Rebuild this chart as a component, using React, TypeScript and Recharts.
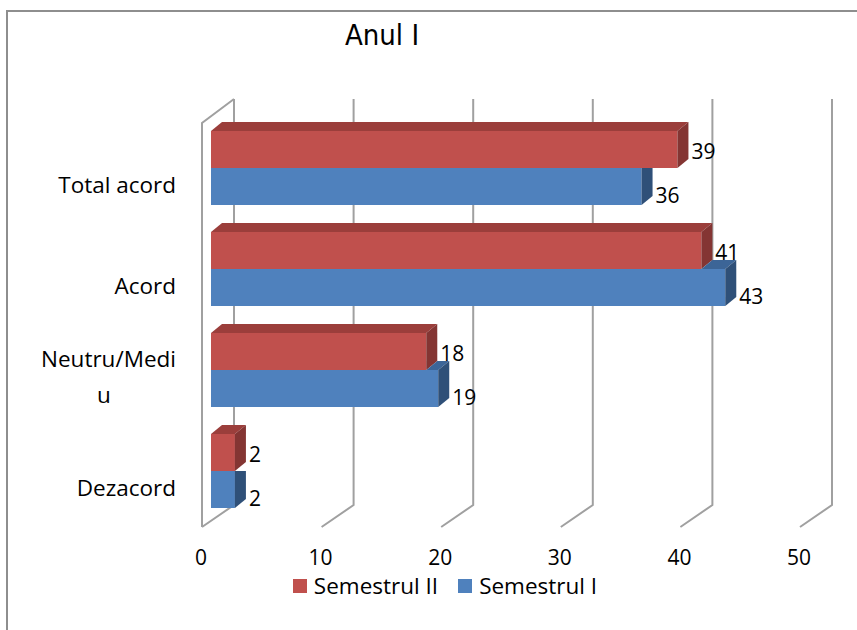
import React from 'react'
import { BarChart, Bar, XAxis, YAxis, CartesianGrid, Legend, LabelList } from 'recharts'

const categories = ['Total acord', 'Acord', 'Neutru/Mediu', 'Dezacord']
const semestrulII = [39, 41, 18, 2]
const semestrulI = [36, 43, 19, 2]
const xTicks = [0, 10, 20, 30, 40, 50]
const legendOrder = ['Semestrul II', 'Semestrul I']

const data = categories.map((name, i) => ({ name, s2: semestrulII[i], s1: semestrulI[i] }))

const FONT = '"Open Sans", sans-serif'
// oblique depth of each bar
const DX = 11
const DY = 9

const RED = { front: '#C0504D', top: '#9B3E3B', side: '#843533' }
const BLUE = { front: '#4F81BD', top: '#3C6597', side: '#2F5078' }

function RedBar(p: any) {
  const { x, y, width: w, height: h } = p
  return (
    <g>
      <rect x={x} y={y} width={w} height={h} fill={RED.front} />
      <polygon points={`${x},${y} ${x + DX},${y - DY} ${x + w + DX},${y - DY} ${x + w},${y}`} fill={RED.top} />
      <polygon points={`${x + w},${y} ${x + w + DX},${y - DY} ${x + w + DX},${y + h - DY} ${x + w},${y + h}`} fill={RED.side} />
    </g>
  )
}

function BlueBar(p: any) {
  const { x, y, width: w, height: h, payload } = p
  const k = payload.s1 ? w / payload.s1 : 0
  const xr = x + payload.s2 * k
  const xb = x + w
  return (
    <g>
      <rect x={x} y={y} width={w} height={h} fill={BLUE.front} />
      {xr < xb ? (
        <>
          <polygon points={`${xr},${y} ${xb},${y} ${xb + DX},${y - DY} ${xr + DX},${y - DY}`} fill={BLUE.top} />
          <polygon points={`${xb},${y} ${xb + DX},${y - DY} ${xb + DX},${y + h - DY} ${xb},${y + h}`} fill={BLUE.side} />
        </>
      ) : (
        <polygon points={`${xb},${y} ${xb + DX},${y} ${xb + DX},${y + h - DY} ${xb},${y + h}`} fill={BLUE.side} />
      )}
    </g>
  )
}

// floor diagonal + back wall line for each value tick; the 0 tick also gets the left wall
function GridLine(p: any) {
  const x = p.x1
  const top = Math.min(p.y1, p.y2)
  const bottom = Math.max(p.y1, p.y2)
  const fx = x - 9
  const fy = bottom + 6
  const bx = x + 23
  const by = bottom - 16
  const ty = top - 18
  let d = `M${fx},${fy} L${bx},${by} L${bx},${ty}`
  if (p.index === 0) d += ` M${fx},${fy} L${fx},${top + 6} L${bx},${ty}`
  return <path key={`g-${p.index}`} d={d} fill="none" stroke="#A0A0A0" strokeWidth={2} strokeLinejoin="miter" />
}

function CategoryTick(p: any) {
  const { x, y, payload } = p
  const label: string = payload.value
  if (label.length > 11) {
    const lines = [label.slice(0, 11), label.slice(11)]
    return (
      <text x={x - 35} y={y} textAnchor="end" fontFamily={FONT} fontSize={22.5} fill="#000">
        <tspan x={x - 35} y={y - 11} dominantBaseline="central">{lines[0]}</tspan>
        <tspan x={x - 107} y={y + 25} dominantBaseline="central" textAnchor="middle">{lines[1]}</tspan>
      </text>
    )
  }
  return (
    <text x={x - 35} y={y + 17} textAnchor="end" dominantBaseline="central" fontFamily={FONT} fontSize={22.5} fill="#000">
      {label}
    </text>
  )
}

function ValueTick(p: any) {
  const { x, y, payload } = p
  return (
    <text x={x - 10} y={y + 36} textAnchor="middle" dominantBaseline="central" fontFamily={FONT} fontSize={21} fill="#000">
      {payload.value}
    </text>
  )
}

const valueLabel = (shift: number) => (p: any) => {
  const { x, y, width, height, value } = p
  return (
    <text x={x + width + 14} y={y + height / 2 + shift} dominantBaseline="central" fontFamily={FONT} fontSize={21} fill="#000">
      {value}
    </text>
  )
}

function LegendContent(p: any) {
  const items = [...(p.payload || [])].sort(
    (a: any, b: any) => legendOrder.indexOf(a.value) - legendOrder.indexOf(b.value)
  )
  return (
    <div style={{ display: 'flex', justifyContent: 'center', alignItems: 'center', fontFamily: FONT, fontSize: 22.5, lineHeight: '28px', color: '#000' }}>
      {items.map((it: any) => (
        <div key={it.value} style={{ display: 'flex', alignItems: 'center', marginRight: 20 }}>
          <span style={{ display: 'inline-block', width: 14, height: 14, background: it.color, marginRight: 7 }} />
          <span>{it.value}</span>
        </div>
      ))}
    </div>
  )
}

export default function App() {
  return (
    <div style={{ position: 'absolute', left: 0, top: 0, width: 857, height: 630, background: '#fff', overflow: 'hidden' }}>
      <div style={{ position: 'absolute', left: 6, top: 10, width: 900, height: 700, borderLeft: '2px solid #8E8E8E', borderTop: '2px solid #8E8E8E' }} />
      <div style={{ position: 'absolute', left: 282, top: 18, width: 200, textAlign: 'center', fontFamily: '"Liberation Sans Narrow", "DejaVu Sans Condensed", sans-serif', fontSize: 29, color: '#000' }}>
        Anul I
      </div>
      <BarChart
        layout="vertical"
        width={857}
        height={630}
        data={data}
        margin={{ top: 117, right: 48, bottom: 31, left: 0 }}
        barCategoryGap={14}
        barGap={0}
        style={{ position: 'absolute', left: 0, top: 0 }}
      >
        <CartesianGrid horizontal={false} vertical={GridLine} />
        <XAxis type="number" domain={[0, 50]} ticks={xTicks} axisLine={false} tickLine={false} tickSize={0} tickMargin={0} height={50} tick={ValueTick} interval={0} />
        <YAxis type="category" dataKey="name" width={211} axisLine={false} tickLine={false} tickSize={0} tickMargin={0} tick={CategoryTick} interval={0} />
        <Legend content={LegendContent} wrapperStyle={{ left: 47, width: 816, top: 572 }} />
        <Bar dataKey="s2" name="Semestrul II" fill={RED.front} shape={RedBar} isAnimationActive={false}>
          <LabelList dataKey="s2" content={valueLabel(1)} />
        </Bar>
        <Bar dataKey="s1" name="Semestrul I" fill={BLUE.front} shape={BlueBar} isAnimationActive={false}>
          <LabelList dataKey="s1" content={valueLabel(8)} />
        </Bar>
      </BarChart>
    </div>
  )
}
